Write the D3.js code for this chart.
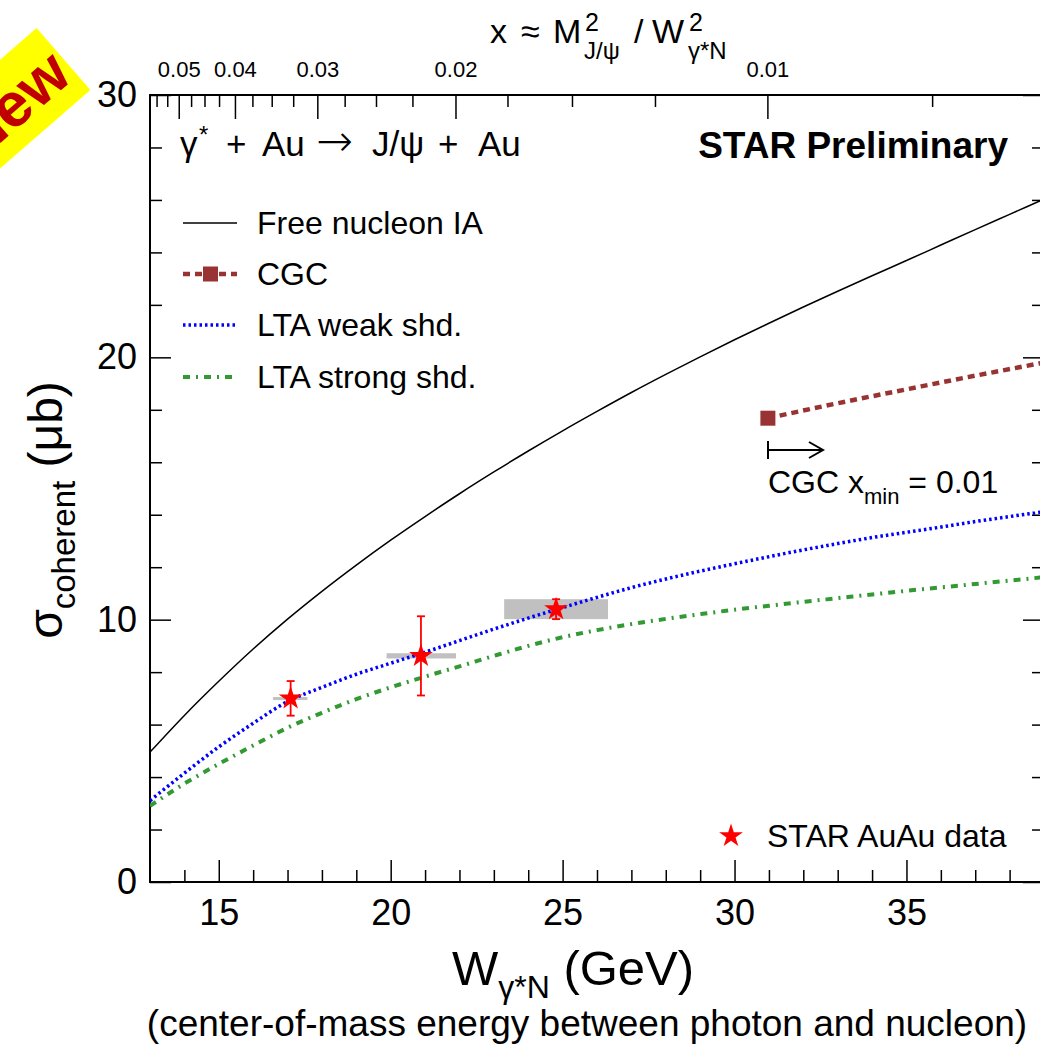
<!DOCTYPE html>
<html>
<head>
<meta charset="utf-8">
<script src="https://cdn.jsdelivr.net/npm/d3@7"></script>
<style>
body { margin: 0; background: #fff; }
svg { display: block; font-family: "Liberation Sans", Arial, sans-serif; }
</style>
</head>
<body>
<svg id="chart" width="1040" height="1046"></svg>
<script>
const svg = d3.select("#chart");
const M_JPSI = 3.097; // GeV, for the top x axis

// theory curves, sampled every 1 GeV
const wGrid = [13, 14, 15, 16, 17, 18, 19, 20, 21, 22, 23, 24, 25, 26, 27, 28, 29, 30, 31, 32, 33, 34, 35, 36, 37, 38, 39];
const freeNucleonIA = [4.95, 6.35, 7.65, 8.88, 10.02, 11.08, 12.08, 13.03, 13.93, 14.8, 15.63, 16.43, 17.2, 17.94, 18.66, 19.35, 20.02, 20.67, 21.3, 21.92, 22.52, 23.11, 23.69, 24.28, 24.87, 25.45, 26.03];
const ltaWeak = [3.1, 4.15, 5.15, 6.05, 6.88, 7.42, 7.92, 8.34, 8.76, 9.2, 9.64, 10.06, 10.46, 10.85, 11.22, 11.55, 11.85, 12.13, 12.4, 12.66, 12.9, 13.13, 13.33, 13.53, 13.74, 13.93, 14.12];
const ltaStrong = [2.9, 3.75, 4.5, 5.2, 5.88, 6.45, 6.97, 7.42, 7.83, 8.22, 8.62, 9.0, 9.33, 9.6, 9.83, 10.03, 10.21, 10.38, 10.53, 10.68, 10.82, 10.96, 11.1, 11.23, 11.36, 11.49, 11.62];
const cgcW = [30.97, 33, 35, 37, 39];
const cgcSigma = [17.68, 18.25, 18.78, 19.3, 19.8];

// STAR data
const starW = [17.09, 20.88, 24.81];
const starSigma = [7.0, 8.62, 10.4];
const starStat = [0.66, 1.51, 0.38];
const sysLow = [16.58, 19.88, 23.3];
const sysHigh = [17.58, 21.9, 26.32];
const sysErr = [0.05, 0.1, 0.38];

// ticks
const xMajor = [15, 20, 25, 30, 35];
const yMajor = [0, 10, 20, 30];
const topMajor = [0.05, 0.04, 0.03, 0.02, 0.01];
const topLabels = ["0.05", "0.04", "0.03", "0.02", "0.01"];

const x = d3.scaleLinear().domain([13, 39]).range([150, 1044]);
const y = d3.scaleLinear().domain([0, 30]).range([882, 95]);
const xTop = v => x(M_JPSI / Math.sqrt(v));

const xMinor = d3.range(14, 39).filter(d => d % 5 !== 0);
const yMinor = d3.range(0, 31, 2).filter(d => d % 10 !== 0);
const topMinor = d3.range(3, 23).map(i => i * 0.0025).filter(d => Math.abs(d * 100 - Math.round(d * 100)) > 1e-6);

svg.append("defs").append("clipPath").attr("id", "plot")
    .append("rect").attr("x", 150).attr("y", 95).attr("width", 894).attr("height", 787);

// --- axes ---
function styleAxis(g) {
    g.select(".domain").remove();
    g.selectAll("line").attr("stroke", "#000").attr("stroke-width", 1.5);
    g.attr("font-family", null);
}

svg.append("g").attr("transform", `translate(0,${y(0)})`)
    .call(d3.axisBottom(x).tickValues(xMajor).tickSize(-22).tickPadding(17).tickFormat(d3.format("d")))
    .call(styleAxis).attr("font-size", 36);
svg.append("g").attr("transform", `translate(0,${y(0)})`)
    .call(d3.axisBottom(x).tickValues(xMinor).tickSize(-12).tickFormat(""))
    .call(styleAxis);

svg.append("g").attr("transform", `translate(${x(13)},0)`)
    .call(d3.axisLeft(y).tickValues(yMajor).tickSize(-21).tickPadding(13).tickFormat(d3.format("d")))
    .call(styleAxis).attr("font-size", 36);
svg.append("g").attr("transform", `translate(${x(13)},0)`)
    .call(d3.axisLeft(y).tickValues(yMinor).tickSize(-12).tickFormat(""))
    .call(styleAxis);
svg.append("g").attr("transform", `translate(${x(39)},0)`)
    .call(d3.axisRight(y).tickValues(yMajor).tickSize(-21).tickFormat(""))
    .call(styleAxis);
svg.append("g").attr("transform", `translate(${x(39)},0)`)
    .call(d3.axisRight(y).tickValues(yMinor).tickSize(-12).tickFormat(""))
    .call(styleAxis);

// top axis in x = M^2 / W^2
const topAxis = svg.append("g");
topAxis.selectAll("line.maj").data(topMajor).join("line").attr("class", "maj")
    .attr("x1", d => xTop(d)).attr("x2", d => xTop(d))
    .attr("y1", y(30)).attr("y2", y(30) + 24)
    .attr("stroke", "#000").attr("stroke-width", 1.5);
topAxis.selectAll("line.min").data(topMinor).join("line").attr("class", "min")
    .attr("x1", d => xTop(d)).attr("x2", d => xTop(d))
    .attr("y1", y(30)).attr("y2", y(30) + 12)
    .attr("stroke", "#000").attr("stroke-width", 1.5);
topAxis.selectAll("text").data(topMajor).join("text")
    .attr("x", d => xTop(d)).attr("y", 77)
    .attr("text-anchor", "middle").attr("font-size", 22)
    .text((d, i) => topLabels[i]);

// frame
svg.append("rect").attr("x", x(13)).attr("y", y(30))
    .attr("width", x(39) - x(13)).attr("height", y(0) - y(30))
    .attr("fill", "none").attr("stroke", "#000").attr("stroke-width", 2);

// --- systematic boxes ---
const plot = svg.append("g").attr("clip-path", "url(#plot)");
plot.selectAll("rect.sys").data(starW).join("rect").attr("class", "sys")
    .attr("x", (d, i) => x(sysLow[i]))
    .attr("width", (d, i) => x(sysHigh[i]) - x(sysLow[i]))
    .attr("y", (d, i) => y(starSigma[i] + sysErr[i]))
    .attr("height", (d, i) => Math.max(3, y(starSigma[i] - sysErr[i]) - y(starSigma[i] + sysErr[i])))
    .attr("fill", "#c0c0c0");

// --- curves ---
const line = d3.line().x(d => x(d[0])).y(d => y(d[1])).curve(d3.curveMonotoneX);
plot.append("path").datum(wGrid.map((w, i) => [w, freeNucleonIA[i]]))
    .attr("d", line).attr("fill", "none").attr("stroke", "#000").attr("stroke-width", 1.5);
plot.append("path").datum(wGrid.map((w, i) => [w, ltaWeak[i]]))
    .attr("d", line).attr("fill", "none").attr("stroke", "#0000ff").attr("stroke-width", 3.5)
    .attr("stroke-dasharray", "2.5,3");
plot.append("path").datum(wGrid.map((w, i) => [w, ltaStrong[i]]))
    .attr("d", line).attr("fill", "none").attr("stroke", "#339933").attr("stroke-width", 4)
    .attr("stroke-dasharray", "7,6,2,6");
plot.append("path").datum(cgcW.map((w, i) => [w, cgcSigma[i]]))
    .attr("d", line).attr("fill", "none").attr("stroke", "#993333").attr("stroke-width", 4.5)
    .attr("stroke-dasharray", "7,5");
plot.append("rect")
    .attr("x", x(cgcW[0]) - 7.5).attr("y", y(cgcSigma[0]) - 7.5)
    .attr("width", 15).attr("height", 15).attr("fill", "#993333");

// --- STAR points ---
const red = "#ff0000";
const errG = plot.append("g").attr("stroke", red).attr("stroke-width", 1.8);
starW.forEach((w, i) => {
    const cx = x(w), y1 = y(starSigma[i] + starStat[i]), y2 = y(starSigma[i] - starStat[i]);
    errG.append("line").attr("x1", cx).attr("x2", cx).attr("y1", y1).attr("y2", y2);
    errG.append("line").attr("x1", cx - 4).attr("x2", cx + 4).attr("y1", y1).attr("y2", y1);
    errG.append("line").attr("x1", cx - 4).attr("x2", cx + 4).attr("y1", y2).attr("y2", y2);
});
const star = d3.symbol().type(d3.symbolStar).size(175);
plot.selectAll("path.star").data(starW).join("path").attr("class", "star")
    .attr("transform", (d, i) => `translate(${x(d)},${y(starSigma[i])})`)
    .attr("d", star).attr("fill", red);

// --- texts ---
const title = svg.append("text").attr("y", 156).attr("font-size", 35);
title.append("tspan").attr("x", 180).text("γ");
title.append("tspan").attr("x", 199).attr("y", 143).attr("font-size", 24).text("*");
title.append("tspan").attr("x", 226).attr("y", 156).text("+");
title.append("tspan").attr("x", 262).text("Au");
title.append("tspan").attr("x", 316).attr("font-family", "DejaVu Sans").attr("font-size", 44)
    .attr("font-weight", 200).text("→");
title.append("tspan").attr("x", 372).attr("font-family", null).attr("font-size", 35).text("J/ψ");
title.append("tspan").attr("x", 438).text("+");
title.append("tspan").attr("x", 478).text("Au");

svg.append("text").attr("x", 1008).attr("y", 158).attr("text-anchor", "end")
    .attr("font-size", 37).attr("font-weight", "bold").text("STAR Preliminary");

// legend
const legY = [223, 274, 325, 377];
const legNames = ["Free nucleon IA", "CGC", "LTA weak shd.", "LTA strong shd."];
const leg = svg.append("g");
leg.append("line").attr("x1", 183).attr("x2", 237).attr("y1", legY[0]).attr("y2", legY[0])
    .attr("stroke", "#000").attr("stroke-width", 1.5);
leg.append("line").attr("x1", 183).attr("x2", 237).attr("y1", legY[1]).attr("y2", legY[1])
    .attr("stroke", "#993333").attr("stroke-width", 4.5).attr("stroke-dasharray", "7,5");
leg.append("rect").attr("x", 203).attr("y", legY[1] - 7.5).attr("width", 15).attr("height", 15)
    .attr("fill", "#993333");
leg.append("line").attr("x1", 183).attr("x2", 237).attr("y1", legY[2]).attr("y2", legY[2])
    .attr("stroke", "#0000ff").attr("stroke-width", 3.5).attr("stroke-dasharray", "2.5,3");
leg.append("line").attr("x1", 183).attr("x2", 237).attr("y1", legY[3]).attr("y2", legY[3])
    .attr("stroke", "#339933").attr("stroke-width", 4).attr("stroke-dasharray", "7,6,2,6");
leg.selectAll("text").data(legNames).join("text")
    .attr("x", 257).attr("y", (d, i) => legY[i] + 11)
    .attr("font-size", 32).text(d => d);

leg.append("path").attr("transform", "translate(731,836)").attr("d", star).attr("fill", red);
leg.append("text").attr("x", 767).attr("y", 847).attr("font-size", 32).text("STAR AuAu data");

// CGC x_min annotation
const ar = svg.append("g").attr("stroke", "#000").attr("stroke-width", 2).attr("fill", "none");
ar.append("line").attr("x1", 768).attr("x2", 768).attr("y1", 441).attr("y2", 459);
ar.append("line").attr("x1", 768).attr("x2", 823).attr("y1", 450).attr("y2", 450);
ar.append("polyline").attr("points", "809,442 823,450 809,458");
const cgcTxt = svg.append("text").attr("x", 768).attr("y", 493).attr("font-size", 32);
cgcTxt.append("tspan").text("CGC x");
cgcTxt.append("tspan").attr("dy", 11).attr("font-size", 22).text("min");
cgcTxt.append("tspan").attr("dy", -11).text(" = 0.01");

// top title
const tt = svg.append("text").attr("y", 43).attr("font-size", 34);
tt.append("tspan").attr("x", 490).text("x");
tt.append("tspan").attr("x", 521).text("≈");
tt.append("tspan").attr("x", 553).text("M");
tt.append("tspan").attr("x", 585).attr("y", 31).attr("font-size", 25).text("2");
tt.append("tspan").attr("x", 584).attr("y", 59).attr("font-size", 24).text("J/ψ");
tt.append("tspan").attr("x", 634).attr("y", 43).text("/");
tt.append("tspan").attr("x", 652).text("W");
tt.append("tspan").attr("x", 689).attr("y", 31).attr("font-size", 25).text("2");
tt.append("tspan").attr("x", 688).attr("y", 59).attr("font-size", 24).text("γ*N");

// x axis title
const xt = svg.append("text").attr("x", 452).attr("y", 985).attr("font-size", 49);
xt.append("tspan").text("W");
xt.append("tspan").attr("dy", 13).attr("font-size", 32).text("γ*N");
xt.append("tspan").attr("dy", -13).text(" (GeV)");
svg.append("text").attr("x", 587).attr("y", 1036).attr("text-anchor", "middle")
    .attr("font-size", 37).text("(center-of-mass energy between photon and nucleon)");

// y axis title
const yt = svg.append("text").attr("transform", "translate(62,510) rotate(-90)")
    .attr("text-anchor", "middle").attr("font-size", 48);
yt.append("tspan").text("σ");
yt.append("tspan").attr("dy", 13).attr("font-size", 33).text("coherent");
yt.append("tspan").attr("dy", -13).text(" (μb)");

// "New" badge
const badge = svg.append("g").attr("transform", "translate(63.5,59) rotate(-41)");
badge.append("rect").attr("x", -260).attr("y", -41).attr("width", 260).attr("height", 82).attr("fill", "#ffff00");
badge.append("text").attr("x", -5).attr("y", 22).attr("text-anchor", "end")
    .attr("font-size", 62).attr("font-weight", "bold").attr("fill", "#c00000").text("New");
</script>
</body>
</html>
